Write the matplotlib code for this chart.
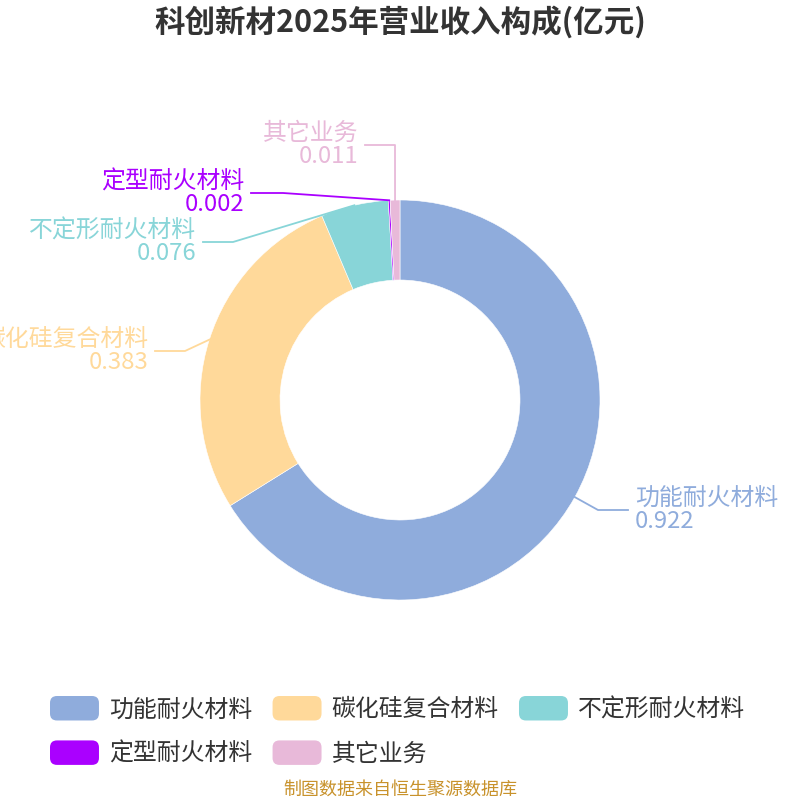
import matplotlib.pyplot as plt
import numpy as np
from matplotlib.patches import FancyBboxPatch
from matplotlib.legend_handler import HandlerPatch
from matplotlib.patches import Patch

plt.rcParams['font.family'] = ['Noto Sans CJK SC', 'DejaVu Sans']

# data
names = ["功能耐火材料", "碳化硅复合材料", "不定形耐火材料", "定型耐火材料", "其它业务"]
values = [0.922, 0.383, 0.076, 0.002, 0.011]
colors = ["#8FACDC", "#FFD99A", "#88D5D8", "#AA00FF", "#E8B9D9"]

title = "科创新材2025年营业收入构成(亿元)"
source = "制图数据来自恒生聚源数据库"

# label leader layout: elbow point, horizontal run
label_elbow = [(0.99, -0.55), (-1.075, 0.245), (-0.835, 0.79), (-0.585, 1.035), (-0.025, 1.275)]
label_run = [0.15, 0.15, 0.15, 0.16, 0.15]

fig = plt.figure(figsize=(8, 8), dpi=100)
ax = fig.add_axes([0, 0, 1, 1])

wedges, _ = ax.pie(values, colors=colors, startangle=90, counterclock=False,
                   radius=1.0, wedgeprops=dict(width=0.4, edgecolor='white', linewidth=0.4))
ax.set_xlim(-2, 2)
ax.set_ylim(-2, 2)
ax.set_aspect('equal')
ax.axis('off')

for w, name, val, col, (ex, ey), run in zip(wedges, names, values, colors, label_elbow, label_run):
    mid = np.deg2rad((w.theta1 + w.theta2) / 2)
    sx, sy = np.cos(mid), np.sin(mid)
    side = 1 if ex > 0 else -1
    endx = ex + side * run
    ax.plot([sx, ex, endx], [sy, ey, ey], color=col, lw=1.3, clip_on=False)
    ax.text(endx + side * 0.035, ey, f"{name}\n{val}", color=col, fontsize=17.2,
            ha='left' if side > 0 else 'right', va='center', linespacing=1.0)

fig.text(0.5, 1 - 22 / 800, title, ha='center', va='center', fontsize=22,
         fontweight='bold', color='#333333')


class RoundHandler(HandlerPatch):
    def create_artists(self, legend, orig_handle, xdescent, ydescent, width, height, fontsize, trans):
        p = FancyBboxPatch((-xdescent, -ydescent), width, height,
                           boxstyle="round,pad=0,rounding_size=5",
                           facecolor=orig_handle.get_facecolor(), edgecolor='none')
        p.set_transform(trans)
        return [p]


# legend fills column by column, so reorder to get row-major layout
order = [0, 3, 1, 4, 2]
handles = [Patch(facecolor=colors[i]) for i in order]
labels = [names[i] for i in order]
fig.legend(handles, labels, ncol=3, loc='upper left', bbox_to_anchor=(50 / 800, 1 - 696 / 800),
           frameon=False, fontsize=17.2, handlelength=2.05, handleheight=1.2,
           handletextpad=0.42, columnspacing=0.85, labelspacing=0.8, borderpad=0,
           borderaxespad=0, labelcolor='#333333',
           handler_map={Patch: RoundHandler()})

fig.text(0.5, 1 - 790 / 800, source, ha='center', va='center', fontsize=13, color='#C8922B')

fig.savefig("out.png", dpi=100)
